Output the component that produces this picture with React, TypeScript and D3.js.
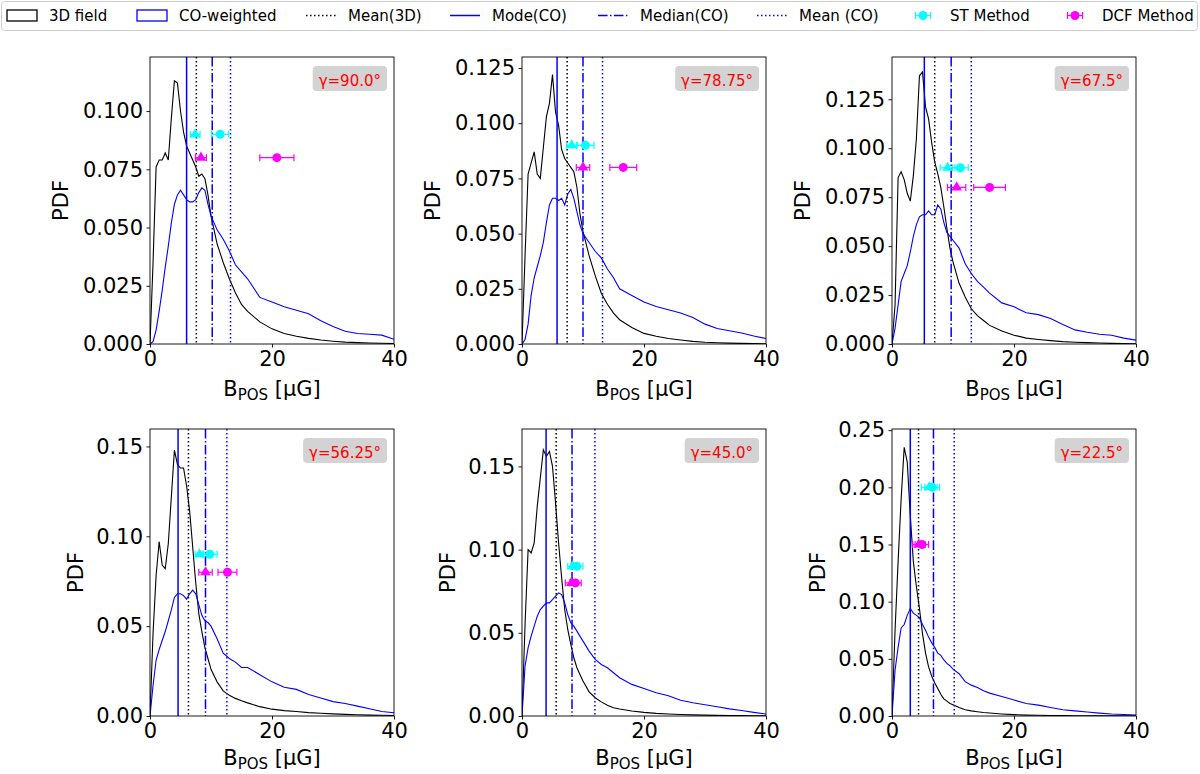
import * as d3 from "d3";
import { useRef, useEffect } from "react";

// B_POS sample positions (µG) shared by all histogram readings
const bGrid = [0, 0.5, 1, 1.5, 2, 2.5, 3, 3.5, 4, 4.5, 5, 5.5, 6, 6.5, 7, 7.5, 8, 8.5, 9, 9.5, 10, 11, 12, 13, 14, 15, 16, 18, 20, 22, 24, 26, 28, 30, 32, 34, 36, 38, 40];

// 3D field PDFs (black)
const field90 = [0, 0.035, 0.076, 0.079, 0.079, 0.082, 0.079, 0.097, 0.113, 0.112, 0.1, 0.091, 0.085, 0.082, 0.079, 0.076, 0.072, 0.073, 0.071, 0.064, 0.055, 0.043, 0.035, 0.028, 0.022, 0.017, 0.014, 0.0095, 0.0065, 0.0045, 0.0033, 0.0024, 0.0017, 0.0012, 0.0008, 0.0006, 0.0004, 0.0003, 0.0002];
const field7875 = [0, 0.04, 0.077, 0.082, 0.087, 0.077, 0.075, 0.089, 0.103, 0.109, 0.122, 0.105, 0.099, 0.088, 0.084, 0.082, 0.08, 0.078, 0.071, 0.059, 0.051, 0.04, 0.031, 0.023, 0.018, 0.014, 0.011, 0.0075, 0.0048, 0.0035, 0.0025, 0.0018, 0.0012, 0.0008, 0.0006, 0.0004, 0.0003, 0.0002, 0.0001];
const field675 = [0, 0.02, 0.085, 0.088, 0.084, 0.077, 0.073, 0.086, 0.105, 0.137, 0.139, 0.121, 0.115, 0.103, 0.093, 0.087, 0.08, 0.07, 0.059, 0.049, 0.042, 0.031, 0.024, 0.018, 0.0145, 0.012, 0.0095, 0.0066, 0.0045, 0.003, 0.0023, 0.0017, 0.0012, 0.0009, 0.0007, 0.0005, 0.0003, 0.0002, 0.0001];
const field5625 = [0, 0.046, 0.078, 0.097, 0.084, 0.082, 0.096, 0.122, 0.148, 0.14, 0.138, 0.138, 0.128, 0.114, 0.094, 0.074, 0.057, 0.047, 0.038, 0.032, 0.026, 0.019, 0.014, 0.0115, 0.0098, 0.0085, 0.0073, 0.0052, 0.0038, 0.003, 0.0025, 0.0019, 0.0015, 0.0012, 0.0009, 0.0007, 0.0005, 0.0004, 0.0003];
const field45 = [0, 0.055, 0.1, 0.098, 0.104, 0.126, 0.143, 0.16, 0.156, 0.159, 0.15, 0.128, 0.104, 0.083, 0.064, 0.052, 0.043, 0.035, 0.029, 0.025, 0.021, 0.0145, 0.011, 0.0085, 0.0065, 0.005, 0.0042, 0.003, 0.0022, 0.0016, 0.0012, 0.0009, 0.0007, 0.0005, 0.0004, 0.0003, 0.0002, 0.0001, 0.0001];
const field225 = [0, 0.075, 0.135, 0.19, 0.235, 0.222, 0.175, 0.135, 0.113, 0.094, 0.072, 0.055, 0.043, 0.035, 0.029, 0.024, 0.019, 0.015, 0.013, 0.011, 0.0098, 0.0075, 0.0055, 0.0045, 0.0037, 0.003, 0.0026, 0.0018, 0.0012, 0.0008, 0.0006, 0.0004, 0.0003, 0.0002, 0.0002, 0.0001, 0.0001, 0.0001, 0.0001];

// CO-weighted PDFs (blue)
const co90 = [0, 0.001, 0.006, 0.014, 0.023, 0.033, 0.042, 0.052, 0.06, 0.064, 0.066, 0.064, 0.062, 0.061, 0.061, 0.062, 0.065, 0.067, 0.066, 0.06, 0.055, 0.049, 0.045, 0.04, 0.034, 0.031, 0.028, 0.02, 0.018, 0.016, 0.0145, 0.013, 0.01, 0.0075, 0.0055, 0.0045, 0.0042, 0.0038, 0.002];
const co7875 = [0, 0.002, 0.009, 0.022, 0.03, 0.035, 0.04, 0.046, 0.055, 0.063, 0.066, 0.066, 0.065, 0.066, 0.063, 0.068, 0.07, 0.066, 0.06, 0.054, 0.05, 0.046, 0.042, 0.039, 0.034, 0.03, 0.025, 0.022, 0.019, 0.017, 0.0155, 0.014, 0.012, 0.009, 0.007, 0.006, 0.005, 0.0036, 0.0025];
const co675 = [0, 0.008, 0.02, 0.032, 0.036, 0.04, 0.047, 0.055, 0.061, 0.065, 0.066, 0.066, 0.068, 0.066, 0.066, 0.071, 0.069, 0.062, 0.057, 0.055, 0.053, 0.049, 0.041, 0.036, 0.032, 0.029, 0.026, 0.021, 0.019, 0.016, 0.015, 0.013, 0.01, 0.0072, 0.006, 0.005, 0.0045, 0.003, 0.002];
const co5625 = [0, 0.017, 0.031, 0.037, 0.042, 0.047, 0.053, 0.059, 0.066, 0.068, 0.068, 0.067, 0.065, 0.068, 0.07, 0.068, 0.062, 0.056, 0.053, 0.052, 0.05, 0.043, 0.035, 0.032, 0.03, 0.027, 0.027, 0.023, 0.019, 0.016, 0.0148, 0.012, 0.01, 0.008, 0.007, 0.0055, 0.004, 0.0025, 0.0018];
const co45 = [0, 0.03, 0.041, 0.048, 0.054, 0.06, 0.064, 0.066, 0.068, 0.068, 0.07, 0.072, 0.074, 0.073, 0.068, 0.061, 0.056, 0.054, 0.051, 0.048, 0.045, 0.039, 0.034, 0.031, 0.029, 0.026, 0.023, 0.019, 0.0165, 0.014, 0.0122, 0.0095, 0.008, 0.0068, 0.0056, 0.0043, 0.0033, 0.0022, 0.0012];
const co225 = [0, 0.04, 0.06, 0.077, 0.08, 0.088, 0.094, 0.09, 0.088, 0.086, 0.08, 0.075, 0.069, 0.064, 0.06, 0.055, 0.053, 0.049, 0.046, 0.044, 0.041, 0.037, 0.03, 0.027, 0.025, 0.022, 0.02, 0.017, 0.014, 0.011, 0.0095, 0.0075, 0.0055, 0.0045, 0.0035, 0.0025, 0.0017, 0.0013, 0.0009];

const gammaLabels = ["γ=90.0°", "γ=78.75°", "γ=67.5°", "γ=56.25°", "γ=45.0°", "γ=22.5°"];
const yMax = [0.1232, 0.13, 0.1466, 0.1597, 0.1725, 0.251];
const yTicks = [
  [0, 0.025, 0.05, 0.075, 0.1],
  [0, 0.025, 0.05, 0.075, 0.1, 0.125],
  [0, 0.025, 0.05, 0.075, 0.1, 0.125],
  [0, 0.05, 0.1, 0.15],
  [0, 0.05, 0.1, 0.15],
  [0, 0.05, 0.1, 0.15, 0.2, 0.25],
];
const yDecimals = [3, 3, 3, 2, 2, 2];
const xTicks = [0, 20, 40];

// statistics lines (µG)
const modeCO = [6.0, 5.75, 5.3, 4.6, 3.95, 3.0];
const mean3D = [7.6, 7.4, 7.0, 6.3, 5.6, 4.35];
const medianCO = [10.2, 10.0, 9.7, 9.1, 8.2, 6.8];
const meanCO = [13.2, 13.2, 13.0, 12.6, 11.95, 10.2];

// [value, half error]
const stTriangle = [[7.4, 0.8], [8.15, 0.85], [9.1, 1.2], [8.1, 0.7], [8.3, 0.8], [6.1, 1.3]];
const stCircle = [[11.5, 1.4], [10.4, 1.4], [11.2, 1.3], [9.8, 1.2], [9.0, 1.0], [6.6, 1.2]];
const dcfTriangle = [[8.35, 0.9], [10.0, 1.1], [10.6, 1.5], [9.1, 1.1], [8.1, 1.0], [4.4, 1.0]];
const dcfCircle = [[20.8, 2.8], [16.6, 2.2], [16.0, 2.6], [12.7, 1.55], [8.75, 0.95], [4.9, 1.1]];
const stLevel = [0.09, 0.09, 0.09, 0.09, 0.09, 0.2];
const dcfLevel = [0.08, 0.08, 0.08, 0.08, 0.08, 0.15];

const legendLabels = ["3D field", "CO-weighted", "Mean(3D)", "Mode(CO)", "Median(CO)", "Mean (CO)", "ST Method", "DCF Method"];

const fieldCurves = [field90, field7875, field675, field5625, field45, field225];
const coCurves = [co90, co7875, co675, co5625, co45, co225];

const FONT = "DejaVu Sans";
const CYAN = "#00ffff";
const MAGENTA = "#ff00ff";
const BLUE = "#0000ff";

export default function App() {
  const ref = useRef<SVGSVGElement>(null);

  useEffect(() => {
    const svg = d3.select(ref.current);
    svg.selectAll("*").remove();

    const colLeft = [150, 522, 892];
    const rowTop = [57, 429];
    const W = 244;
    const H = 287;

    fieldCurves.forEach((field, i) => {
      const row = Math.floor(i / 3);
      const left = colLeft[i % 3];
      const top = rowTop[row];
      const x = d3.scaleLinear().domain([0, 40]).range([left, left + W]);
      const y = d3.scaleLinear().domain([0, yMax[i]]).range([top + H, top]);
      const g = svg.append("g");

      const clipId = "clip" + i;
      g.append("clipPath").attr("id", clipId)
        .append("rect").attr("x", left).attr("y", top).attr("width", W).attr("height", H);
      const plot = g.append("g").attr("clip-path", `url(#${clipId})`);

      const line = d3.line<number>().x((d, k) => x(bGrid[k])).y(d => y(d));
      plot.append("path").attr("d", line(field)).attr("fill", "none").attr("stroke", "#000").attr("stroke-width", 1.1);
      plot.append("path").attr("d", line(coCurves[i])).attr("fill", "none").attr("stroke", BLUE).attr("stroke-width", 1.1);

      const vline = (v, color, dash) => {
        plot.append("line")
          .attr("x1", x(v)).attr("x2", x(v)).attr("y1", top).attr("y2", top + H)
          .attr("stroke", color).attr("stroke-width", 1.5)
          .attr("stroke-dasharray", dash);
      };
      vline(modeCO[i], BLUE, null);
      vline(mean3D[i], "#000", "1.5,2.5");
      vline(medianCO[i], BLUE, "9.6,2.4,1.5,2.4");
      vline(meanCO[i], BLUE, "1.5,2.5");

      const errbar = (d, level, color, shape) => {
        const [v, e] = d;
        const cy = y(level);
        const eg = plot.append("g").attr("stroke", color).attr("stroke-width", 1.2);
        eg.append("line").attr("x1", x(v - e)).attr("x2", x(v + e)).attr("y1", cy).attr("y2", cy);
        [v - e, v + e].forEach(c => {
          eg.append("line").attr("x1", x(c)).attr("x2", x(c)).attr("y1", cy - 3.5).attr("y2", cy + 3.5);
        });
        if (shape === "circle") {
          plot.append("circle").attr("cx", x(v)).attr("cy", cy).attr("r", 4.5).attr("fill", color);
        } else {
          plot.append("path")
            .attr("d", d3.symbol(d3.symbolTriangle, 48)())
            .attr("transform", `translate(${x(v)},${cy})`)
            .attr("fill", color);
        }
      };
      errbar(stTriangle[i], stLevel[i], CYAN, "triangle");
      errbar(stCircle[i], stLevel[i], CYAN, "circle");
      errbar(dcfTriangle[i], dcfLevel[i], MAGENTA, "triangle");
      errbar(dcfCircle[i], dcfLevel[i], MAGENTA, "circle");

      // axes
      const yAxis = d3.axisLeft(y).tickValues(yTicks[i])
        .tickFormat(d3.format(`.${yDecimals[i]}f`)).tickSize(3.5).tickPadding(3.5);
      const xAxis = d3.axisBottom(x).tickValues(xTicks).tickFormat(d3.format("d")).tickSize(3.5).tickPadding(3.5);
      const ya = g.append("g").attr("transform", `translate(${left},0)`).call(yAxis);
      const xa = g.append("g").attr("transform", `translate(0,${top + H})`).call(xAxis);
      [ya, xa].forEach(a => {
        a.select(".domain").remove();
        a.selectAll("text").attr("font-family", FONT).attr("font-size", 21).attr("fill", "#000");
        a.selectAll("line").attr("stroke", "#000").attr("stroke-width", 0.9);
      });

      g.append("rect").attr("x", left).attr("y", top).attr("width", W).attr("height", H)
        .attr("fill", "none").attr("stroke", "#000").attr("stroke-width", 0.9);

      g.append("text")
        .attr("transform", `translate(${left - (yDecimals[i] === 3 ? 90 : 75)},${top + H / 2}) rotate(-90)`)
        .attr("text-anchor", "middle").attr("dy", "0.36em")
        .attr("font-family", FONT).attr("font-size", 21).text("PDF");

      const xl = g.append("text")
        .attr("x", left + W / 2).attr("y", top + H + (row === 0 ? 52 : 49))
        .attr("text-anchor", "middle").attr("font-family", FONT).attr("font-size", 21);
      xl.append("tspan").text("B");
      xl.append("tspan").attr("font-size", 15).attr("dy", 4).text("POS");
      xl.append("tspan").attr("dy", -4).text(" [μG]");

      // gamma badge
      const badge = g.append("g");
      const bt = badge.append("text")
        .attr("x", left + W - 13).attr("y", top + 29)
        .attr("text-anchor", "end").attr("font-family", FONT).attr("font-size", 15)
        .attr("fill", "#ff0000").text(gammaLabels[i]);
      const tw = (bt.node() as SVGTextElement).getComputedTextLength();
      badge.insert("rect", "text")
        .attr("x", left + W - 13 - tw - 6).attr("y", top + 9)
        .attr("width", tw + 12).attr("height", 25).attr("rx", 4)
        .attr("fill", "#d3d3d3");
    });

    // legend
    const handleX = [7, 137, 306, 450, 598, 757, 908, 1060];
    const lg = svg.append("g");
    lg.append("rect").attr("x", 1.5).attr("y", 1.5).attr("width", 1196).attr("height", 29).attr("rx", 3)
      .attr("fill", "#fff").attr("stroke", "#cccccc").attr("stroke-width", 1);
    const cy = 15.5;
    legendLabels.forEach((label, k) => {
      const hx = handleX[k];
      const h = lg.append("g");
      if (k === 0 || k === 1) {
        h.append("rect").attr("x", hx).attr("y", 10).attr("width", 30).attr("height", 11)
          .attr("fill", "none").attr("stroke", k === 0 ? "#000" : BLUE).attr("stroke-width", 1.3);
      } else if (k <= 5) {
        const styles = [["#000", "1.5,2.5"], [BLUE, null], [BLUE, "9.6,2.4,1.5,2.4"], [BLUE, "1.5,2.5"]];
        const [color, dash] = styles[k - 2];
        h.append("line").attr("x1", hx).attr("x2", hx + 30).attr("y1", cy).attr("y2", cy)
          .attr("stroke", color).attr("stroke-width", 1.5).attr("stroke-dasharray", dash);
      } else {
        const color = k === 6 ? CYAN : MAGENTA;
        const c = hx + 15;
        h.append("line").attr("x1", c - 7.5).attr("x2", c + 7.5).attr("y1", cy).attr("y2", cy)
          .attr("stroke", color).attr("stroke-width", 1.2);
        [c - 7.5, c + 7.5].forEach(e => h.append("line").attr("x1", e).attr("x2", e)
          .attr("y1", cy - 3.5).attr("y2", cy + 3.5).attr("stroke", color).attr("stroke-width", 1.2));
        h.append("circle").attr("cx", c).attr("cy", cy).attr("r", 4.5).attr("fill", color);
      }
      lg.append("text").attr("x", hx + 42).attr("y", 21)
        .attr("font-family", FONT).attr("font-size", 15).attr("fill", "#000").text(label);
    });
  }, []);

  return (
    <svg
      ref={ref}
      width={1200}
      height={774}
      style={{ position: "absolute", left: 0, top: 0, background: "#fff" }}
    />
  );
}
